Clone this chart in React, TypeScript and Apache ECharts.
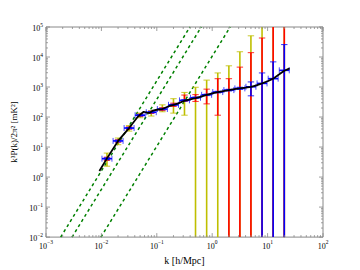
import { useEffect, useRef } from "react";
import * as echarts from "echarts";

// bin centres (k in h/Mpc) and measured k^3P(k)/2pi^2 values [mK^2]
const kBins = [0.0126, 0.02, 0.0316, 0.05, 0.0794, 0.126, 0.2, 0.316, 0.5, 0.794, 1.26, 2.0, 3.16, 5.0, 7.94, 12.6, 20.0];
const pCenter = [4.1, 16, 43, 115, 145, 185, 255, 360, 440, 550, 680, 790, 900, 1020, 1320, 1900, 3600];

// error ranges; null = beyond the plotted range
const yellowLo: (number | null)[] = [2.3, 12, 34, 95, 108, 150, 135, 115, null, null, null, null, null, null, null, null, null];
const yellowHi: (number | null)[] = [6.3, 20, 52, 135, 160, 255, 410, 660, 980, 1700, 2950, 5100, 15000, 51000, null, null, null];
const redLo: (number | null)[] = [3.6, 14.5, 39, 105, 132, 165, 225, 330, 330, 275, 115, null, null, null, null, null, null];
const redHi: (number | null)[] = [4.6, 17.5, 47, 125, 158, 205, 290, 540, 560, 850, 1900, 1900, 4600, 14000, 43000, null, null];
const blueLo: (number | null)[] = [3.8, 15, 41, 108, 137, 175, 242, 340, 415, 520, 640, 740, 830, 510, null, null, null];
const blueHi: (number | null)[] = [4.4, 17, 45, 122, 153, 195, 268, 380, 465, 580, 720, 840, 980, 1480, 2950, 6900, 26000];
const binHalfWidthDex = 0.09;

// black model curve
const blackK = [0.0092, 0.0126, 0.02, 0.0316, 0.045, 0.05, 0.058, 0.066, 0.075, 0.085, 0.1, 0.126, 0.16, 0.2, 0.25, 0.316, 0.4, 0.5, 0.63, 0.794, 1.0, 1.26, 1.6, 2.0, 2.5, 3.16, 4.0, 5.0, 6.3, 7.94, 10, 12.6, 16, 20, 25];
const blackP = [1.6, 4.2, 16, 43, 100, 120, 150, 140, 138, 165, 175, 185, 225, 255, 290, 350, 390, 430, 480, 550, 610, 680, 735, 790, 850, 900, 950, 1020, 1140, 1320, 1560, 1900, 2600, 3500, 4200];

// green k^3 guide lines: start and end points
const guideStartK = [0.00184, 0.00295, 0.0098];
const guideEndK = [0.396, 0.635, 2.11];
const guideStartP = 0.01;
const guideEndP = 1e5;

// axis decades
const xExps = [-3, -2, -1, 0, 1, 2];
const yExps = [-2, -1, 0, 1, 2, 3, 4, 5];

const SERIF = "'Liberation Serif', 'DejaVu Serif', serif";

function errRender(lo: (number | null)[], hi: (number | null)[], color: string) {
  return (params: any, api: any) => {
    const i = params.dataIndex;
    const cs = params.coordSys;
    const top = cs.y;
    const bottom = cs.y + cs.height;
    const k = kBins[i];
    const x = api.coord([k, pCenter[i]])[0];
    const l = lo[i];
    const h = hi[i];
    const yL = l == null ? bottom : Math.min(bottom, api.coord([k, l])[1]);
    const yH = h == null ? top : Math.max(top, api.coord([k, h])[1]);
    const children: any[] = [
      { type: "line", shape: { x1: x, y1: yL, x2: x, y2: yH }, style: { stroke: color, lineWidth: 1.6 } },
    ];
    const cw = 3.2;
    if (l != null) children.push({ type: "line", shape: { x1: x - cw, y1: yL, x2: x + cw, y2: yL }, style: { stroke: color, lineWidth: 1.1, opacity: 0.75 } });
    if (h != null) children.push({ type: "line", shape: { x1: x - cw, y1: yH, x2: x + cw, y2: yH }, style: { stroke: color, lineWidth: 1.1, opacity: 0.75 } });
    return { type: "group", children };
  };
}

function hBarRender(params: any, api: any) {
  const i = params.dataIndex;
  const k = kBins[i];
  const p = pCenter[i];
  const f = Math.pow(10, binHalfWidthDex);
  const a = api.coord([k / f, p]);
  const b = api.coord([k * f, p]);
  const ch = 3;
  return {
    type: "group",
    children: [
      { type: "line", shape: { x1: a[0], y1: a[1], x2: b[0], y2: b[1] }, style: { stroke: "#0000ff", lineWidth: 1.6 } },
      { type: "line", shape: { x1: a[0], y1: a[1] - ch, x2: a[0], y2: a[1] + ch }, style: { stroke: "#0000ff", lineWidth: 1, opacity: 0.7 } },
      { type: "line", shape: { x1: b[0], y1: b[1] - ch, x2: b[0], y2: b[1] + ch }, style: { stroke: "#0000ff", lineWidth: 1, opacity: 0.7 } },
    ],
  };
}

function tickRender(params: any, api: any) {
  const cs = params.coordSys;
  const left = cs.x;
  const right = cs.x + cs.width;
  const top = cs.y;
  const bottom = cs.y + cs.height;
  const children: any[] = [];
  const st = { stroke: "#888", lineWidth: 0.8 };
  const major = 4;
  const minor = 2;
  for (let n = 0; n < xExps.length; n++) {
    const d = Math.pow(10, xExps[n]);
    for (let m = 1; m <= 9; m++) {
      if (m > 1 && n === xExps.length - 1) break;
      const x = api.coord([d * m, 1])[0];
      const len = m === 1 ? major : minor;
      children.push({ type: "line", shape: { x1: x, y1: bottom, x2: x, y2: bottom - len }, style: st });
      children.push({ type: "line", shape: { x1: x, y1: top, x2: x, y2: top + len }, style: st });
    }
  }
  for (let n = 0; n < yExps.length; n++) {
    const d = Math.pow(10, yExps[n]);
    for (let m = 1; m <= 9; m++) {
      if (m > 1 && n === yExps.length - 1) break;
      const y = api.coord([1, d * m])[1];
      const len = m === 1 ? major : minor;
      children.push({ type: "line", shape: { x1: left, y1: y, x2: left + len, y2: y }, style: st });
      children.push({ type: "line", shape: { x1: right, y1: y, x2: right - len, y2: y }, style: st });
    }
  }
  return { type: "group", children };
}

function supFmt(v: number) {
  const e = Math.round(Math.log10(v));
  const s = e < 0 ? "\u2212" + -e : String(e);
  return `{b|10}{s|${s}}`;
}

const richLabels = {
  b: { fontSize: 8, fontFamily: SERIF, color: "#000", lineHeight: 11, verticalAlign: "bottom" },
  s: { fontSize: 5.5, fontFamily: SERIF, color: "#000", lineHeight: 11, verticalAlign: "top", padding: [0, 0, 4, 0] },
};

export default function App() {
  const ref = useRef<HTMLDivElement>(null);
  useEffect(() => {
    document.body.style.margin = "0";
    if (!ref.current) return;
    const chart = echarts.init(ref.current, null, { renderer: "svg" });
    const errData = kBins.map((k, i) => [k, pCenter[i]]);
    const option: any = {
      animation: false,
      backgroundColor: "#fff",
      grid: { left: 46, right: 37, top: 27, bottom: 27, show: true, borderColor: "#888", borderWidth: 1, backgroundColor: "transparent" },
      xAxis: {
        type: "log",
        logBase: 10,
        min: 0.001,
        max: 100,
        name: "k [h/Mpc]",
        nameLocation: "middle",
        nameGap: 10,
        nameTextStyle: { fontFamily: SERIF, fontSize: 10, color: "#000", verticalAlign: "top" },
        axisLine: { show: false },
        axisTick: { show: false },
        splitLine: { show: false },
        axisLabel: { formatter: supFmt, rich: richLabels, margin: 2, showMinLabel: true, showMaxLabel: true },
      },
      yAxis: {
        type: "log",
        logBase: 10,
        min: 0.01,
        max: 100000,
        name: "k\u00b3P(k)/2\u03c0\u00b2 [mK\u00b2]",
        nameLocation: "middle",
        nameGap: 22,
        nameTextStyle: { fontFamily: SERIF, fontSize: 9, color: "#000" },
        axisLine: { show: false },
        axisTick: { show: false },
        splitLine: { show: false },
        axisLabel: { formatter: supFmt, rich: richLabels, margin: 3, showMinLabel: true, showMaxLabel: true },
      },
      series: [
        ...guideStartK.map((k0, j) => ({
          type: "line",
          data: [[k0, guideStartP], [guideEndK[j], guideEndP]],
          showSymbol: false,
          symbol: "none",
          lineStyle: { color: "#008000", width: 1.5, type: [3, 3] },
          z: 1,
        })),
        { type: "custom", data: errData, encode: { x: 0, y: 1 }, renderItem: errRender(yellowLo, yellowHi, "#bfbf00"), z: 2 },
        { type: "custom", data: errData, encode: { x: 0, y: 1 }, renderItem: errRender(redLo, redHi, "#ff0000"), z: 3 },
        { type: "custom", data: errData, encode: { x: 0, y: 1 }, renderItem: errRender(blueLo, blueHi, "#0000ff"), z: 4 },
        { type: "custom", data: errData, encode: { x: 0, y: 1 }, renderItem: hBarRender, z: 5 },
        {
          type: "line",
          data: blackK.map((k, i) => [k, blackP[i]]),
          showSymbol: false,
          symbol: "none",
          lineStyle: { color: "#000", width: 1.8 },
          z: 6,
        },
        { type: "custom", data: [[1, 1]], renderItem: tickRender, clip: false, z: 10, silent: true },
      ],
    };
    chart.setOption(option);
    return () => chart.dispose();
  }, []);
  return <div ref={ref} style={{ width: 360, height: 270 }} />;
}
